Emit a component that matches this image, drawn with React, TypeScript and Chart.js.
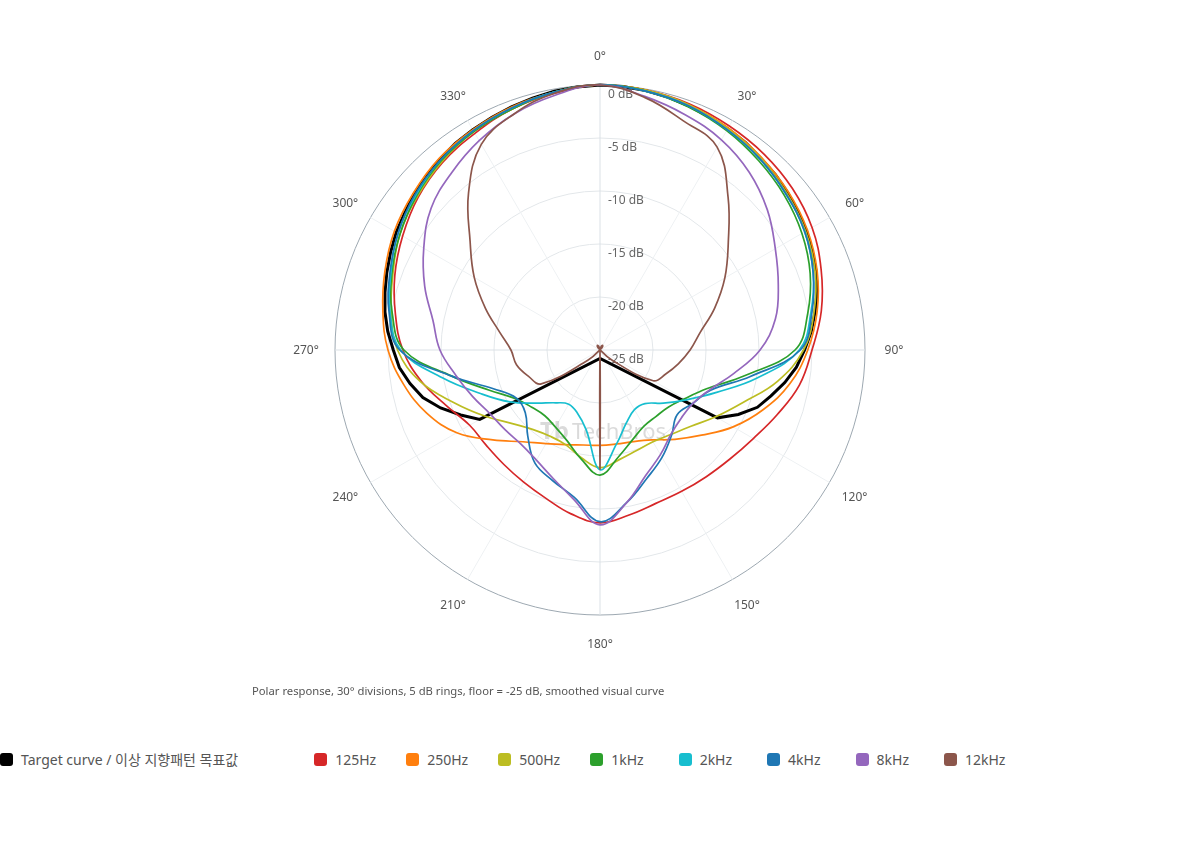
import { useEffect, useRef } from 'react';
import { Chart, registerables } from 'chart.js';

Chart.register(...registerables);

// angle categories every 5 degrees (clockwise from the top)
const angles = Array.from({ length: 72 }, (_, i) => i * 5);
const angleTicks = [0, 30, 60, 90, 120, 150, 180, 210, 240, 270, 300, 330];
const ringTicks = [0, -5, -10, -15, -20, -25];

// measured series, one value per 10 degrees (0..350), in dB
const hz125 = [0, -0.1, -0.3, -0.6, -0.9, -1.3, -1.9, -2.8, -3.8, -5.0, -5.9, -7.2, -8.3, -9.0, -9.4, -9.6, -9.6, -9.2, -8.7, -9.3, -10.1, -10.6, -10.9, -11.0, -10.8, -9.6, -7.9, -6.4, -5.4, -4.4, -3.5, -2.6, -1.9, -1.4, -0.8, -0.4];
const hz250 = [0, -0.1, -0.4, -0.8, -1.3, -1.8, -2.4, -3.2, -4.2, -5.4, -6.8, -8.6, -10.5, -12.5, -14.0, -15.2, -15.8, -16.0, -16.0, -15.9, -15.5, -14.8, -13.7, -11.8, -9.4, -7.6, -6.2, -5.0, -4.2, -3.4, -2.6, -2.0, -1.4, -1.0, -0.6, -0.3];
const hz500 = [0, -0.1, -0.4, -0.9, -1.4, -2.0, -2.6, -3.4, -4.5, -5.8, -8.0, -10.6, -12.4, -13.8, -14.6, -15.0, -14.9, -14.5, -13.9, -14.7, -15.5, -15.6, -15.2, -14.2, -12.5, -10.4, -7.8, -5.9, -5.0, -4.2, -3.2, -2.5, -1.8, -1.2, -0.8, -0.3];
const hz1k = [0, -0.2, -0.6, -1.1, -1.7, -2.3, -3.0, -3.9, -5.1, -6.6, -11.1, -14.3, -15.8, -16.6, -16.8, -16.7, -16.0, -14.8, -13.2, -14.6, -15.9, -16.6, -16.9, -16.6, -15.8, -13.9, -10.8, -6.5, -5.1, -4.1, -3.2, -2.4, -1.7, -1.2, -0.8, -0.3];
const hz2k = [0, -0.2, -0.5, -1.0, -1.5, -2.1, -2.7, -3.6, -4.8, -6.2, -9.9, -13.3, -15.6, -17.2, -18.4, -18.5, -17.7, -16.0, -13.7, -17.4, -18.7, -19.1, -18.5, -17.2, -15.2, -13.0, -9.9, -6.2, -4.9, -4.0, -3.0, -2.3, -1.6, -1.1, -0.7, -0.3];
const hz4k = [0, -0.2, -0.5, -1.0, -1.5, -2.1, -2.7, -3.6, -4.7, -6.1, -10.6, -13.9, -14.9, -15.5, -14.5, -13.3, -12.1, -10.4, -8.8, -10.9, -11.9, -12.7, -14.4, -15.8, -15.9, -14.3, -10.8, -6.1, -4.8, -3.9, -3.0, -2.2, -1.6, -1.1, -0.7, -0.3];
const hz8k = [0, -0.7, -1.4, -2.1, -3.1, -4.4, -5.9, -7.1, -8.2, -9.9, -12.2, -14.0, -14.9, -15.0, -14.6, -13.6, -12.4, -10.4, -8.5, -10.7, -12.1, -13.0, -13.4, -13.3, -13.0, -12.2, -11.2, -9.9, -9.0, -7.4, -5.8, -4.2, -3.2, -2.2, -1.3, -0.6];
const hz12k = [0, -0.8, -2.0, -2.9, -6.2, -9.2, -11.4, -13.5, -15.4, -16.5, -17.5, -18.4, -19.2, -23.5, -25.3, -25.5, -25.4, -25.0, -13.7, -25.0, -25.4, -25.5, -25.3, -23.5, -18.6, -17.8, -17.0, -16.6, -15.4, -13.5, -11.3, -9.0, -5.7, -2.6, -1.3, -0.4];

// target curve, one value per 5 degrees (null = straight run between points)
const target = [
  0, -0.05, -0.15, -0.3, -0.5, -0.7, -0.9, -1.1, -1.4, -1.6, -1.9, -2.2,
  -2.5, -2.9, -3.3, -3.8, -4.4, -5.0, -5.7, -6.4, -7.3, -8.3, -9.2, -10.6,
  -12.2, null, null, null, null, null, null, null, null, null, null, null,
  -24.2, null, null, null, null, null, null, null, null, null, null, null,
  -11.9, -10.5, -9.0, -7.7, -6.8, -6.0, -5.5, -4.9, -4.4, -4.0, -3.6, -3.2,
  -2.8, -2.5, -2.1, -1.8, -1.5, -1.2, -1.0, -0.8, -0.6, -0.4, -0.2, -0.1,
];

const seriesNames = ['125Hz', '250Hz', '500Hz', '1kHz', '2kHz', '4kHz', '8kHz', '12kHz'];
const seriesValues = [hz125, hz250, hz500, hz1k, hz2k, hz4k, hz8k, hz12k];
const seriesColors = ['#d62728', '#ff7f0e', '#bcbd22', '#2ca02c', '#17becf', '#1f77b4', '#9467bd', '#8c564b'];
const targetName = 'Target curve / 이상 지향패턴 목표값';

const FONT = '"Segoe UI", "Noto Sans", "Noto Sans CJK KR", sans-serif';

// place 10-degree values on the 5-degree category axis
const spread = (vals: number[]) => angles.map((a) => (a % 10 === 0 ? vals[a / 10] : null));

const polarText = {
  id: 'polarText',
  beforeDatasetsDraw(chart: any) {
    const scale = chart.scales.r;
    const ctx = chart.ctx as CanvasRenderingContext2D;
    ctx.save();

    // watermark
    ctx.fillStyle = 'rgba(150,150,150,0.35)';
    ctx.textBaseline = 'middle';
    ctx.textAlign = 'left';
    ctx.font = `bold 24px ${FONT}`;
    ctx.fillText('Tb', scale.xCenter - 60, scale.yCenter + 82);
    ctx.font = `22px ${FONT}`;
    ctx.fillText('TechBros', scale.xCenter - 28, scale.yCenter + 83);

    // ring labels
    ctx.font = `12px ${FONT}`;
    ctx.fillStyle = '#666';
    ringTicks.forEach((v) => {
      const p = scale.getPointPositionForValue(0, v);
      ctx.fillText(`${v} dB`, p.x + 8, p.y + 10);
    });

    // angle labels
    ctx.textAlign = 'center';
    ctx.fillStyle = '#555';
    angleTicks.forEach((a) => {
      const p = scale.getPointPosition(a / 5, scale.drawingArea + 29);
      ctx.fillText(`${a}°`, p.x, p.y + 1);
    });
    ctx.restore();
  },
};

function PolarChart() {
  const canvasRef = useRef<HTMLCanvasElement | null>(null);
  const chartRef = useRef<Chart | null>(null);

  useEffect(() => {
    if (!canvasRef.current) return;
    if (chartRef.current) chartRef.current.destroy();

    const datasets: any[] = [
      {
        label: targetName,
        data: target,
        borderColor: '#000',
        borderWidth: 3,
        tension: 0,
      },
      ...seriesNames.map((name, i) => ({
        label: name,
        data: spread(seriesValues[i]),
        borderColor: seriesColors[i],
        borderWidth: 1.7,
        tension: 0.4,
      })),
    ];
    datasets.forEach((d, i) => {
      d.fill = false;
      d.spanGaps = true;
      d.pointRadius = 0;
      d.pointHoverRadius = 0;
      d.order = datasets.length - i;
    });

    chartRef.current = new Chart(canvasRef.current, {
      type: 'radar',
      data: { labels: angles.map((a) => `${a}°`), datasets },
      options: {
        animation: false,
        responsive: true,
        maintainAspectRatio: false,
        layout: { padding: { top: 85, bottom: 85, left: 0, right: 0 } },
        plugins: { legend: { display: false }, tooltip: { enabled: false } },
        scales: {
          r: {
            min: -25,
            max: 0,
            ticks: { display: false, stepSize: 5 },
            pointLabels: { display: false },
            grid: {
              circular: true,
              lineWidth: 1,
              color: (c: any) =>
                c.tick && c.tick.value === 0 ? '#9da8b1' : c.tick && c.tick.value === -25 ? 'rgba(0,0,0,0)' : '#e3e7ea',
            },
            angleLines: {
              lineWidth: 1,
              color: (c: any) =>
                c.index % 18 === 0 ? '#dbe1e6' : c.index % 6 === 0 ? '#eef1f3' : 'rgba(0,0,0,0)',
            },
          },
        },
      } as any,
      plugins: [polarText],
    });

    return () => {
      chartRef.current?.destroy();
      chartRef.current = null;
    };
  }, []);

  return (
    <div style={{ position: 'absolute', left: 0, top: 0, width: 1200, height: 700 }}>
      <canvas ref={canvasRef} />
    </div>
  );
}

export default function App() {
  const legend = [{ name: targetName, color: '#000' }, ...seriesNames.map((n, i) => ({ name: n, color: seriesColors[i] }))];
  return (
    <div style={{ position: 'absolute', left: 0, top: 0, width: 1200, height: 860, background: '#fff', fontFamily: FONT }}>
      <PolarChart />
      <div style={{ position: 'absolute', left: 252, top: 683, fontSize: 11.25, color: '#555', whiteSpace: 'nowrap' }}>
        Polar response, 30° divisions, 5 dB rings, floor = -25 dB, smoothed visual curve
      </div>
      <div
        style={{
          position: 'absolute',
          left: 0,
          top: 749,
          display: 'flex',
          alignItems: 'center',
          fontSize: 14,
          color: '#555',
          whiteSpace: 'nowrap',
        }}
      >
        {legend.map((item, i) => (
          <div
            key={item.name}
            style={{
              display: 'flex',
              alignItems: 'center',
              marginRight: i === 0 ? 76 : item.name.includes('kHz') ? 35 : 30,
            }}
          >
            <span style={{ display: 'inline-block', width: 13, height: 13, borderRadius: 3, background: item.color, marginRight: 8 }} />
            <span>{item.name}</span>
          </div>
        ))}
      </div>
    </div>
  );
}
